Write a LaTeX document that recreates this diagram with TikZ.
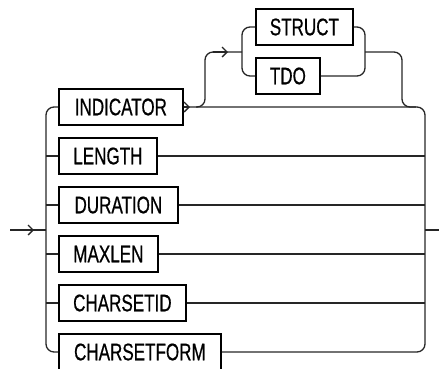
\documentclass[tikz,border=0pt]{standalone}
\usepackage{fontspec}
\setmainfont{Liberation Sans}[FakeStretch=0.71,FakeBold=0.6]
\usetikzlibrary{arrows.meta}
\begin{document}
\begin{tikzpicture}[x=1pt,y=-1pt,
  kw/.style={draw=black,line width=1.8pt,minimum height=36pt,inner sep=0pt,anchor=west,
    font=\fontsize{24}{24}\selectfont},
  conn/.style={line width=1.3pt,draw=black!85,rounded corners=8pt},
  chev/.style={line width=1.3pt,draw=black!85,-{Straight Barb[length=5pt,width=10pt,line width=1.3pt]}}]
\useasboundingbox (0,0) rectangle (439,368);
% keyword boxes
\node[kw,minimum width=124pt] (ind) at (58,107) {INDICATOR};
\node[kw,minimum width=98pt]  (len) at (58,156) {LENGTH};
\node[kw,minimum width=119pt] (dur) at (58,205) {DURATION};
\node[kw,minimum width=99pt]  (max) at (58,254) {MAXLEN};
\node[kw,minimum width=127pt] (cid) at (58,303) {CHARSETID};
\node[kw,minimum width=162pt] (cfm) at (58,352) {CHARSETFORM};
\node[kw,minimum width=97pt]  (str) at (255,27) {STRUCT};
\node[kw,minimum width=64pt]  (tdo) at (255,76) {TDO};
% junction coordinates
\coordinate (in) at (10,230);
\coordinate (lj) at (46,230);
\coordinate (rj) at (425,230);
\coordinate (out) at (439,230);
\coordinate (a1) at (190,107);
\coordinate (sp) at (242,52);
\coordinate (jn) at (365,52);
\coordinate (a2) at (228,52);
% entry and exit
\draw[conn] (in) -- (lj);
\draw[chev] (in) -- (34,230);
\draw[conn] (rj) -- (out);
% left rail
\draw[conn] (ind.west) -- (46,107) -- (46,352) -- (cfm.west);
\draw[conn] (46,156) -- (len.west);
\draw[conn] (46,205) -- (dur.west);
\draw[conn] (46,254) -- (max.west);
\draw[conn] (46,303) -- (cid.west);
% right rail
\draw[conn] (ind.east) -- (425,107) -- (425,352) -- (cfm.east);
\draw[chev] (ind.east) -- (a1);
\draw[conn] (len.east) -- (425,156);
\draw[conn] (dur.east) -- (425,205);
\draw[conn] (max.east) -- (425,254);
\draw[conn] (cid.east) -- (425,303);
% STRUCT / TDO sub-branch
\draw[conn] (196,107) -- (205,107) -- (205,52) -- (sp);
\draw[chev] (213,52) -- (a2);
\draw[conn] (str.west) -- (242,27) -- (242,76) -- (tdo.west);
\draw[conn] (str.east) -- (365,27) -- (365,76) -- (tdo.east);
\draw[conn] (jn) -- (402,52) -- (402,107) -- (416,107);
\end{tikzpicture}
\end{document}
